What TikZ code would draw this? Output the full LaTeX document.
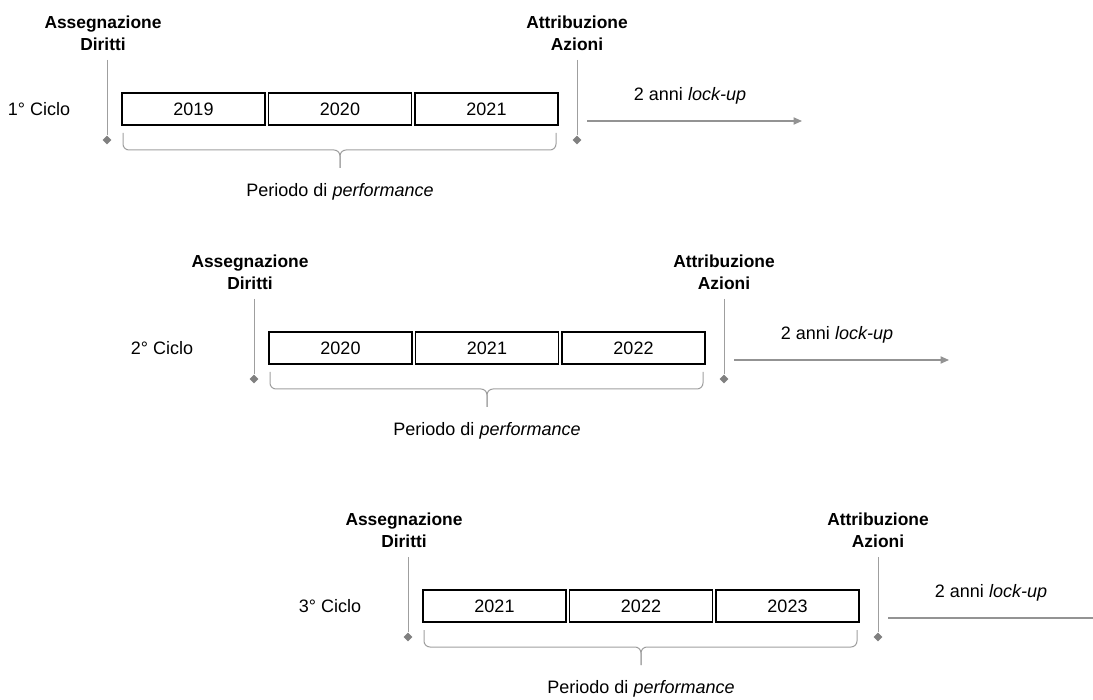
\documentclass[tikz,border=0pt]{standalone}
\usepackage{fontspec}
\setmainfont{Liberation Sans}
\usetikzlibrary{arrows.meta, shapes.geometric, positioning}
\tikzset{
  yearbox/.style={
    rectangle, draw=black, line width=0.6pt,
    minimum width=71.5pt, minimum height=16pt, inner sep=0pt
  },
  eventlabel/.style={align=center, font=\fontsize{8.7}{11}\selectfont\bfseries, inner sep=0pt},
  eventline/.style={draw=gray!75, line width=0.5pt},
  eventmark/.style={diamond, fill=gray, inner sep=0pt, minimum size=4.6pt},
  bracelin/.style={draw=gray!75, line width=0.5pt, rounded corners=3pt},
  lockarrow/.style={-{Triangle[length=4.2pt,width=3.6pt]}, draw=gray!85, fill=gray!85, line width=0.6pt},
}

\begin{document}
\begin{tikzpicture}[x=0.5pt, y=-0.5pt, font=\fontsize{9}{11}\selectfont]
  \clip (0,0) rectangle (1093,700);
  \foreach \c/\dx/\dy/\lx/\ya/\yb/\yc in {1/0/0/39/2019/2020/2021,
                                          2/147/239/15/2020/2021/2022,
                                          3/301/497/29/2021/2022/2023}{
    \begin{scope}[shift={(\dx,\dy)}]
      % anni del periodo
      \node[yearbox](b\c-1)at(193.5,109){\ya};
      \node[yearbox](b\c-2)at(340,109)  {\yb};
      \node[yearbox](b\c-3)at(486.5,109){\yc};
      \node(cy\c)at(\lx,109){\c° Ciclo};
      % assegnazione / attribuzione
      \node[eventlabel](as\c)at(103,33){Assegnazione\\Diritti};
      \node[eventlabel](at\c)at(577,33){Attribuzione\\Azioni};
      \coordinate(ta\c)at(107,60);
      \coordinate(tb\c)at(577,60);
      \node[eventmark](da\c)at(107,140){};
      \node[eventmark](db\c)at(577,140){};
      \draw[eventline](ta\c)--(da\c);
      \draw[eventline](tb\c)--(db\c);
      % graffa
      \draw[bracelin](123,133)--(123,150)--(340,150)--(340,168);
      \draw[bracelin](556,133)--(556,150)--(340,150)--(340,168);
      \node(pp\c)at(340,192){Periodo di \textit{performance}};
      % lock-up
      \coordinate(ls\c)at(587,121);
      \coordinate(le\c)at(802,121);
      \draw[lockarrow](ls\c)--(le\c);
      \node(lk\c)at(690,96){2 anni \textit{lock-up}};
    \end{scope}
  }
\end{tikzpicture}
\end{document}
